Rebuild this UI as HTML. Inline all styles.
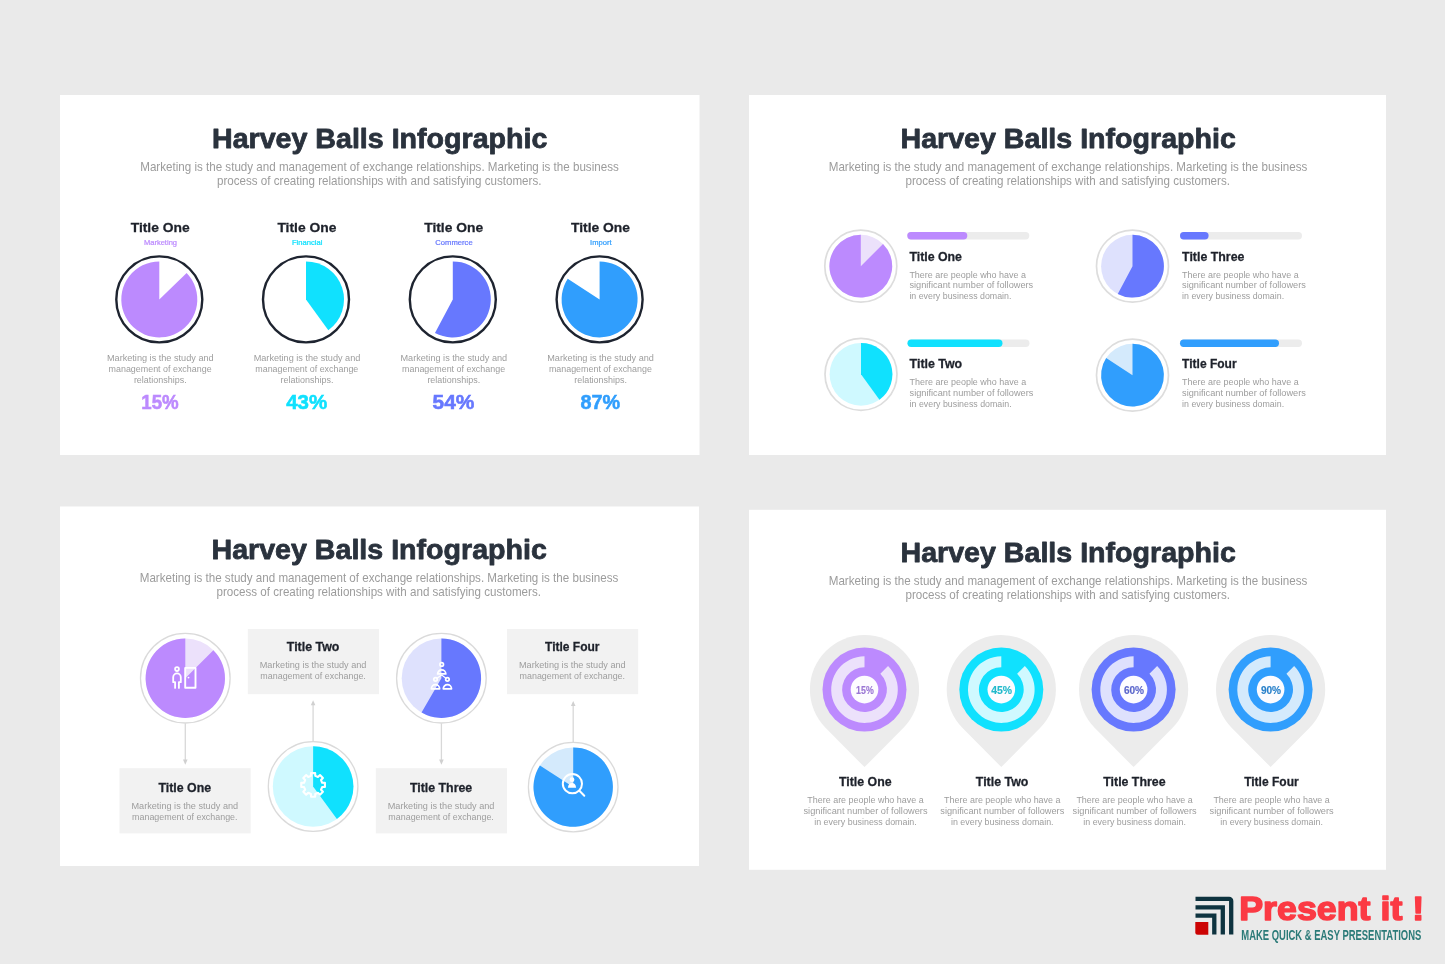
<!DOCTYPE html>
<html lang="en"><head><meta charset="utf-8"><title>Harvey Balls Infographic</title>
<style>
html,body{margin:0;padding:0;background:#eaeaea;}
body{width:1445px;height:964px;overflow:hidden;position:relative;}
svg{position:absolute;left:0;top:0;display:block;font-family:"Liberation Sans", sans-serif;will-change:transform;}
</style></head><body>
<svg width="1445" height="964" viewBox="0 0 1445 964">
<rect x="60" y="95" width="639.5" height="360" fill="#fff" rx="0"/>
<rect x="749" y="95" width="637" height="360" fill="#fff" rx="0"/>
<rect x="60" y="506.5" width="639" height="359.5" fill="#fff" rx="0"/>
<rect x="749" y="509.8" width="637" height="360" fill="#fff" rx="0"/>
<text x="379.7" y="147.5" font-size="27.9" fill="#2a323d" font-weight="700" text-anchor="middle" textLength="335.4" lengthAdjust="spacingAndGlyphs" stroke="#2a323d" stroke-width="0.8" stroke-linejoin="round">Harvey Balls Infographic</text>
<text x="379.5" y="170.8" font-size="12.4" fill="#9c9c9c" font-weight="400" text-anchor="middle" textLength="478.5" lengthAdjust="spacingAndGlyphs">Marketing is the study and management of exchange relationships. Marketing is the business</text>
<text x="379.2" y="185.20000000000002" font-size="12.4" fill="#9c9c9c" font-weight="400" text-anchor="middle" textLength="324.5" lengthAdjust="spacingAndGlyphs">process of creating relationships with and satisfying customers.</text>
<text x="160.20000000000002" y="231.9" font-size="13.7" fill="#1e222b" font-weight="700" text-anchor="middle" textLength="59" lengthAdjust="spacingAndGlyphs" stroke="#1e222b" stroke-width="0.28">Title One</text>
<text x="160.5" y="244.5" font-size="6.7" fill="#bc8afe" font-weight="400" text-anchor="middle" textLength="33" lengthAdjust="spacingAndGlyphs" stroke="#bc8afe" stroke-width="0.2">Marketing</text>
<circle cx="159.3" cy="299.4" r="43" fill="#fff" stroke="#1e2430" stroke-width="2.4"/>
<path d="M159.30 299.40L186.63 273.00A38 38 0 1 1 159.30 261.40Z" fill="#bc8afe"/>
<text x="160.3" y="360.9" font-size="8.8" fill="#9d9d9d" font-weight="400" text-anchor="middle" textLength="106.7" lengthAdjust="spacingAndGlyphs">Marketing is the study and</text>
<text x="160.10000000000002" y="371.9" font-size="8.8" fill="#9d9d9d" font-weight="400" text-anchor="middle" textLength="103" lengthAdjust="spacingAndGlyphs">management of exchange</text>
<text x="160.3" y="382.9" font-size="8.8" fill="#9d9d9d" font-weight="400" text-anchor="middle" textLength="52.8" lengthAdjust="spacingAndGlyphs">relationships.</text>
<text x="160.0" y="408.7" font-size="20.4" fill="#bc8afe" font-weight="700" text-anchor="middle" textLength="37.4" lengthAdjust="spacingAndGlyphs" stroke="#bc8afe" stroke-width="0.55">15%</text>
<text x="306.9" y="231.9" font-size="13.7" fill="#1e222b" font-weight="700" text-anchor="middle" textLength="59" lengthAdjust="spacingAndGlyphs" stroke="#1e222b" stroke-width="0.28">Title One</text>
<text x="307.2" y="244.5" font-size="6.7" fill="#10e1fe" font-weight="400" text-anchor="middle" textLength="30.5" lengthAdjust="spacingAndGlyphs" stroke="#10e1fe" stroke-width="0.2">Financial</text>
<circle cx="306" cy="299.4" r="43" fill="#fff" stroke="#1e2430" stroke-width="2.4"/>
<path d="M306.00 299.40L306.00 261.40A38 38 0 0 1 328.34 330.14Z" fill="#10e1fe"/>
<text x="307" y="360.9" font-size="8.8" fill="#9d9d9d" font-weight="400" text-anchor="middle" textLength="106.7" lengthAdjust="spacingAndGlyphs">Marketing is the study and</text>
<text x="306.8" y="371.9" font-size="8.8" fill="#9d9d9d" font-weight="400" text-anchor="middle" textLength="103" lengthAdjust="spacingAndGlyphs">management of exchange</text>
<text x="307" y="382.9" font-size="8.8" fill="#9d9d9d" font-weight="400" text-anchor="middle" textLength="52.8" lengthAdjust="spacingAndGlyphs">relationships.</text>
<text x="306.7" y="408.7" font-size="20.4" fill="#10e1fe" font-weight="700" text-anchor="middle" textLength="41" lengthAdjust="spacingAndGlyphs" stroke="#10e1fe" stroke-width="0.55">43%</text>
<text x="453.7" y="231.9" font-size="13.7" fill="#1e222b" font-weight="700" text-anchor="middle" textLength="59" lengthAdjust="spacingAndGlyphs" stroke="#1e222b" stroke-width="0.28">Title One</text>
<text x="454.0" y="244.5" font-size="6.7" fill="#6778fe" font-weight="400" text-anchor="middle" textLength="37.3" lengthAdjust="spacingAndGlyphs" stroke="#6778fe" stroke-width="0.2">Commerce</text>
<circle cx="452.8" cy="299.4" r="43" fill="#fff" stroke="#1e2430" stroke-width="2.4"/>
<path d="M452.80 299.40L452.80 261.40A38 38 0 1 1 434.96 332.95Z" fill="#6778fe"/>
<text x="453.8" y="360.9" font-size="8.8" fill="#9d9d9d" font-weight="400" text-anchor="middle" textLength="106.7" lengthAdjust="spacingAndGlyphs">Marketing is the study and</text>
<text x="453.6" y="371.9" font-size="8.8" fill="#9d9d9d" font-weight="400" text-anchor="middle" textLength="103" lengthAdjust="spacingAndGlyphs">management of exchange</text>
<text x="453.8" y="382.9" font-size="8.8" fill="#9d9d9d" font-weight="400" text-anchor="middle" textLength="52.8" lengthAdjust="spacingAndGlyphs">relationships.</text>
<text x="453.5" y="408.7" font-size="20.4" fill="#6778fe" font-weight="700" text-anchor="middle" textLength="41.8" lengthAdjust="spacingAndGlyphs" stroke="#6778fe" stroke-width="0.55">54%</text>
<text x="600.5" y="231.9" font-size="13.7" fill="#1e222b" font-weight="700" text-anchor="middle" textLength="59" lengthAdjust="spacingAndGlyphs" stroke="#1e222b" stroke-width="0.28">Title One</text>
<text x="600.8000000000001" y="244.5" font-size="6.7" fill="#309efd" font-weight="400" text-anchor="middle" textLength="21.5" lengthAdjust="spacingAndGlyphs" stroke="#309efd" stroke-width="0.2">Import</text>
<circle cx="599.6" cy="299.4" r="43" fill="#fff" stroke="#1e2430" stroke-width="2.4"/>
<path d="M599.60 299.40L599.60 261.40A38 38 0 1 1 567.73 278.70Z" fill="#309efd"/>
<text x="600.6" y="360.9" font-size="8.8" fill="#9d9d9d" font-weight="400" text-anchor="middle" textLength="106.7" lengthAdjust="spacingAndGlyphs">Marketing is the study and</text>
<text x="600.4" y="371.9" font-size="8.8" fill="#9d9d9d" font-weight="400" text-anchor="middle" textLength="103" lengthAdjust="spacingAndGlyphs">management of exchange</text>
<text x="600.6" y="382.9" font-size="8.8" fill="#9d9d9d" font-weight="400" text-anchor="middle" textLength="52.8" lengthAdjust="spacingAndGlyphs">relationships.</text>
<text x="600.3000000000001" y="408.7" font-size="20.4" fill="#309efd" font-weight="700" text-anchor="middle" textLength="39.6" lengthAdjust="spacingAndGlyphs" stroke="#309efd" stroke-width="0.55">87%</text>
<text x="1068.2" y="147.5" font-size="27.9" fill="#2a323d" font-weight="700" text-anchor="middle" textLength="335.4" lengthAdjust="spacingAndGlyphs" stroke="#2a323d" stroke-width="0.8" stroke-linejoin="round">Harvey Balls Infographic</text>
<text x="1068.0" y="170.8" font-size="12.4" fill="#9c9c9c" font-weight="400" text-anchor="middle" textLength="478.5" lengthAdjust="spacingAndGlyphs">Marketing is the study and management of exchange relationships. Marketing is the business</text>
<text x="1067.7" y="185.20000000000002" font-size="12.4" fill="#9c9c9c" font-weight="400" text-anchor="middle" textLength="324.5" lengthAdjust="spacingAndGlyphs">process of creating relationships with and satisfying customers.</text>
<circle cx="860.8" cy="266.2" r="36" fill="#fff" stroke="#dddddd" stroke-width="1.7"/>
<circle cx="860.8" cy="266.2" r="31.4" fill="#ece1fb"/>
<path d="M860.80 266.20L883.00 244.00A31.4 31.4 0 1 1 860.80 234.80Z" fill="#bc8afe"/>
<rect x="907.3" y="232.0" width="122" height="7.4" fill="#ececec" rx="3.7"/>
<rect x="907.3" y="232.0" width="60" height="7.4" fill="#bc8afe" rx="3.7"/>
<text x="909.4" y="260.5" font-size="12.3" fill="#1e222b" font-weight="700" text-anchor="start" textLength="52.6" lengthAdjust="spacingAndGlyphs" stroke="#1e222b" stroke-width="0.28">Title One</text>
<text x="909.4" y="277.5" font-size="8.8" fill="#9d9d9d" font-weight="400" text-anchor="start" textLength="116.6" lengthAdjust="spacingAndGlyphs">There are people who have a</text>
<text x="909.4" y="288.09999999999997" font-size="8.8" fill="#9d9d9d" font-weight="400" text-anchor="start" textLength="123.8" lengthAdjust="spacingAndGlyphs">significant number of followers</text>
<text x="909.4" y="299.3" font-size="8.8" fill="#9d9d9d" font-weight="400" text-anchor="start" textLength="102" lengthAdjust="spacingAndGlyphs">in every business domain.</text>
<circle cx="861" cy="374.3" r="36" fill="#fff" stroke="#dddddd" stroke-width="1.7"/>
<circle cx="861" cy="374.3" r="31.4" fill="#cff9ff"/>
<path d="M861.00 374.30L861.00 342.90A31.4 31.4 0 0 1 879.46 399.70Z" fill="#10e1fe"/>
<rect x="907.5" y="339.5" width="122" height="7.4" fill="#ececec" rx="3.7"/>
<rect x="907.5" y="339.5" width="95" height="7.4" fill="#10e1fe" rx="3.7"/>
<text x="909.6" y="368.0" font-size="12.3" fill="#1e222b" font-weight="700" text-anchor="start" textLength="52.6" lengthAdjust="spacingAndGlyphs" stroke="#1e222b" stroke-width="0.28">Title Two</text>
<text x="909.6" y="385.0" font-size="8.8" fill="#9d9d9d" font-weight="400" text-anchor="start" textLength="116.6" lengthAdjust="spacingAndGlyphs">There are people who have a</text>
<text x="909.6" y="395.59999999999997" font-size="8.8" fill="#9d9d9d" font-weight="400" text-anchor="start" textLength="123.8" lengthAdjust="spacingAndGlyphs">significant number of followers</text>
<text x="909.6" y="406.8" font-size="8.8" fill="#9d9d9d" font-weight="400" text-anchor="start" textLength="102" lengthAdjust="spacingAndGlyphs">in every business domain.</text>
<circle cx="1132.5" cy="266.2" r="36" fill="#fff" stroke="#dddddd" stroke-width="1.7"/>
<circle cx="1132.5" cy="266.2" r="31.4" fill="#dee1fd"/>
<path d="M1132.50 266.20L1132.50 234.80A31.4 31.4 0 1 1 1117.76 293.92Z" fill="#6778fe"/>
<rect x="1180.0" y="232.0" width="122" height="7.4" fill="#ececec" rx="3.7"/>
<rect x="1180.0" y="232.0" width="28.6" height="7.4" fill="#6778fe" rx="3.7"/>
<text x="1182.1" y="260.5" font-size="12.3" fill="#1e222b" font-weight="700" text-anchor="start" textLength="62.3" lengthAdjust="spacingAndGlyphs" stroke="#1e222b" stroke-width="0.28">Title Three</text>
<text x="1182.1" y="277.5" font-size="8.8" fill="#9d9d9d" font-weight="400" text-anchor="start" textLength="116.6" lengthAdjust="spacingAndGlyphs">There are people who have a</text>
<text x="1182.1" y="288.09999999999997" font-size="8.8" fill="#9d9d9d" font-weight="400" text-anchor="start" textLength="123.8" lengthAdjust="spacingAndGlyphs">significant number of followers</text>
<text x="1182.1" y="299.3" font-size="8.8" fill="#9d9d9d" font-weight="400" text-anchor="start" textLength="102" lengthAdjust="spacingAndGlyphs">in every business domain.</text>
<circle cx="1132.5" cy="375.2" r="36" fill="#fff" stroke="#dddddd" stroke-width="1.7"/>
<circle cx="1132.5" cy="375.2" r="31.4" fill="#d4eafc"/>
<path d="M1132.50 375.20L1132.50 343.80A31.4 31.4 0 1 1 1106.17 358.10Z" fill="#309efd"/>
<rect x="1180.0" y="339.5" width="122" height="7.4" fill="#ececec" rx="3.7"/>
<rect x="1180.0" y="339.5" width="99" height="7.4" fill="#309efd" rx="3.7"/>
<text x="1182.1" y="368.0" font-size="12.3" fill="#1e222b" font-weight="700" text-anchor="start" textLength="54.5" lengthAdjust="spacingAndGlyphs" stroke="#1e222b" stroke-width="0.28">Title Four</text>
<text x="1182.1" y="385.0" font-size="8.8" fill="#9d9d9d" font-weight="400" text-anchor="start" textLength="116.6" lengthAdjust="spacingAndGlyphs">There are people who have a</text>
<text x="1182.1" y="395.59999999999997" font-size="8.8" fill="#9d9d9d" font-weight="400" text-anchor="start" textLength="123.8" lengthAdjust="spacingAndGlyphs">significant number of followers</text>
<text x="1182.1" y="406.8" font-size="8.8" fill="#9d9d9d" font-weight="400" text-anchor="start" textLength="102" lengthAdjust="spacingAndGlyphs">in every business domain.</text>
<text x="379.2" y="558.7" font-size="27.9" fill="#2a323d" font-weight="700" text-anchor="middle" textLength="335.4" lengthAdjust="spacingAndGlyphs" stroke="#2a323d" stroke-width="0.8" stroke-linejoin="round">Harvey Balls Infographic</text>
<text x="379.0" y="582" font-size="12.4" fill="#9c9c9c" font-weight="400" text-anchor="middle" textLength="478.5" lengthAdjust="spacingAndGlyphs">Marketing is the study and management of exchange relationships. Marketing is the business</text>
<text x="378.7" y="596.4" font-size="12.4" fill="#9c9c9c" font-weight="400" text-anchor="middle" textLength="324.5" lengthAdjust="spacingAndGlyphs">process of creating relationships with and satisfying customers.</text>
<rect x="119.5" y="768.2" width="131.2" height="65.2" fill="#f2f2f2" rx="0"/>
<text x="184.8" y="792.1" font-size="12.3" fill="#1e222b" font-weight="700" text-anchor="middle" textLength="52.6" lengthAdjust="spacingAndGlyphs" stroke="#1e222b" stroke-width="0.28">Title One</text>
<text x="184.8" y="809.4" font-size="8.8" fill="#9d9d9d" font-weight="400" text-anchor="middle" textLength="106.7" lengthAdjust="spacingAndGlyphs">Marketing is the study and</text>
<text x="184.8" y="820.2" font-size="8.8" fill="#9d9d9d" font-weight="400" text-anchor="middle" textLength="105.5" lengthAdjust="spacingAndGlyphs">management of exchange.</text>
<rect x="247.8" y="629" width="131.2" height="65.2" fill="#f2f2f2" rx="0"/>
<text x="313.1" y="651" font-size="12.3" fill="#1e222b" font-weight="700" text-anchor="middle" textLength="52.6" lengthAdjust="spacingAndGlyphs" stroke="#1e222b" stroke-width="0.28">Title Two</text>
<text x="313.1" y="668.3" font-size="8.8" fill="#9d9d9d" font-weight="400" text-anchor="middle" textLength="106.7" lengthAdjust="spacingAndGlyphs">Marketing is the study and</text>
<text x="313.1" y="679.1" font-size="8.8" fill="#9d9d9d" font-weight="400" text-anchor="middle" textLength="105.5" lengthAdjust="spacingAndGlyphs">management of exchange.</text>
<rect x="375.8" y="768.2" width="131.2" height="65.2" fill="#f2f2f2" rx="0"/>
<text x="441.1" y="792.1" font-size="12.3" fill="#1e222b" font-weight="700" text-anchor="middle" textLength="62.3" lengthAdjust="spacingAndGlyphs" stroke="#1e222b" stroke-width="0.28">Title Three</text>
<text x="441.1" y="809.4" font-size="8.8" fill="#9d9d9d" font-weight="400" text-anchor="middle" textLength="106.7" lengthAdjust="spacingAndGlyphs">Marketing is the study and</text>
<text x="441.1" y="820.2" font-size="8.8" fill="#9d9d9d" font-weight="400" text-anchor="middle" textLength="105.5" lengthAdjust="spacingAndGlyphs">management of exchange.</text>
<rect x="507" y="629" width="131.2" height="65.2" fill="#f2f2f2" rx="0"/>
<text x="572.3" y="651" font-size="12.3" fill="#1e222b" font-weight="700" text-anchor="middle" textLength="54.5" lengthAdjust="spacingAndGlyphs" stroke="#1e222b" stroke-width="0.28">Title Four</text>
<text x="572.3" y="668.3" font-size="8.8" fill="#9d9d9d" font-weight="400" text-anchor="middle" textLength="106.7" lengthAdjust="spacingAndGlyphs">Marketing is the study and</text>
<text x="572.3" y="679.1" font-size="8.8" fill="#9d9d9d" font-weight="400" text-anchor="middle" textLength="105.5" lengthAdjust="spacingAndGlyphs">management of exchange.</text>
<path d="M185.3 723.2V761.2" stroke="#d8d8d8" stroke-width="1.3" fill="none"/>
<path d="M183.0 759.6L185.3 764.7L187.60000000000002 759.6Z" fill="#d0d0d0"/>
<circle cx="185.3" cy="678.2" r="44.8" fill="#fff" stroke="#dadada" stroke-width="1.3"/>
<circle cx="185.3" cy="678.2" r="39.7" fill="#ece1fb"/>
<path d="M185.30 678.20L213.37 650.13A39.7 39.7 0 1 1 185.30 638.50Z" fill="#bc8afe"/>
<path d="M313.1 741.5V703.5" stroke="#d8d8d8" stroke-width="1.3" fill="none"/>
<path d="M310.8 705.3L313.1 700.3L315.40000000000003 705.3Z" fill="#d0d0d0"/>
<circle cx="313.1" cy="786.5" r="44.8" fill="#fff" stroke="#dadada" stroke-width="1.3"/>
<circle cx="313.1" cy="786.5" r="40.3" fill="#cff9ff"/>
<path d="M313.10 786.50L313.10 746.20A40.3 40.3 0 0 1 336.90 819.02Z" fill="#10e1fe"/>
<path d="M441.4 723.2V761.2" stroke="#d8d8d8" stroke-width="1.3" fill="none"/>
<path d="M439.09999999999997 759.6L441.4 764.7L443.7 759.6Z" fill="#d0d0d0"/>
<circle cx="441.4" cy="678.2" r="44.8" fill="#fff" stroke="#dadada" stroke-width="1.3"/>
<circle cx="441.4" cy="678.2" r="39.7" fill="#dee1fd"/>
<path d="M441.40 678.20L441.40 638.50A39.7 39.7 0 1 1 421.55 712.58Z" fill="#6778fe"/>
<path d="M573.2 742.1V704.1" stroke="#d8d8d8" stroke-width="1.3" fill="none"/>
<path d="M570.9000000000001 705.9L573.2 700.9L575.5 705.9Z" fill="#d0d0d0"/>
<circle cx="573.2" cy="787.1" r="44.8" fill="#fff" stroke="#dadada" stroke-width="1.3"/>
<circle cx="573.2" cy="787.1" r="39.7" fill="#d4eafc"/>
<path d="M573.20 787.10L573.20 747.40A39.7 39.7 0 1 1 539.90 765.48Z" fill="#309efd"/>
<g fill="none" stroke="#fff" stroke-linecap="round" stroke-linejoin="round" stroke-width="1.8">
<circle cx="177" cy="669.1" r="1.9"/>
<path d="M175.1 687.9V682.2H173.2V677.2A3.8 3.8 0 0 1 180.8 677.2V682.2H178.9V687.9"/>
<rect x="185.2" y="667.9" width="10.3" height="19.8" stroke-width="1.9"/>
</g><circle cx="188.5" cy="677.6" r="0.95" fill="#fff"/>
<path d="M311.04 773.08L315.16 773.08L315.27 775.86L317.96 776.97L320.00 775.08L322.92 778.00L321.03 780.04L322.14 782.73L324.92 782.84L324.92 786.96L322.14 787.07L321.03 789.76L322.92 791.80L320.00 794.72L317.96 792.83L315.27 793.94L315.16 796.72L311.04 796.72L310.93 793.94L308.24 792.83L306.20 794.72L303.28 791.80L305.17 789.76L304.06 787.07L301.28 786.96L301.28 782.84L304.06 782.73L305.17 780.04L303.28 778.00L306.20 775.08L308.24 776.97L310.93 775.86Z" fill="none" stroke="#fff" stroke-linecap="round" stroke-linejoin="round" stroke-width="2.1"/>
<g fill="none" stroke="#fff" stroke-linecap="round" stroke-linejoin="round" stroke-width="1.75" transform="translate(0.3 0.4)">
<path d="M437 677.6L441.4 674.6L445.3 677.6" stroke-width="1.1"/>
<circle cx="441.4" cy="664.1" r="1.75"/>
<path d="M437.29999999999995 673.6A4.1 4.2 0 0 1 445.5 673.6Z"/>
<circle cx="435.2" cy="678.9" r="1.75"/>
<path d="M431.09999999999997 688.4A4.1 4.2 0 0 1 439.3 688.4Z"/>
<circle cx="447.1" cy="678.9" r="1.75"/>
<path d="M443.0 688.4A4.1 4.2 0 0 1 451.20000000000005 688.4Z"/>
</g>
<g fill="none" stroke="#fff" stroke-linecap="round" stroke-linejoin="round" stroke-width="2" transform="translate(0 0.5)"><circle cx="572.4" cy="783.2" r="9.6"/><path d="M579.4 790.3L584.3 795.2"/></g>
<circle cx="572" cy="779.7" r="2.4" fill="#fff"/><path transform="translate(0 0.5)" d="M567.9 787.2C568.2 784 570 782.6 572 782.6S575.8 784 576.1 787.2Z" fill="#fff"/>
<text x="1068.2" y="561.7" font-size="27.9" fill="#2a323d" font-weight="700" text-anchor="middle" textLength="335.4" lengthAdjust="spacingAndGlyphs" stroke="#2a323d" stroke-width="0.8" stroke-linejoin="round">Harvey Balls Infographic</text>
<text x="1068.0" y="585" font-size="12.4" fill="#9c9c9c" font-weight="400" text-anchor="middle" textLength="478.5" lengthAdjust="spacingAndGlyphs">Marketing is the study and management of exchange relationships. Marketing is the business</text>
<text x="1067.7" y="599.4" font-size="12.4" fill="#9c9c9c" font-weight="400" text-anchor="middle" textLength="324.5" lengthAdjust="spacingAndGlyphs">process of creating relationships with and satisfying customers.</text>
<path d="M864.50 767.1L825.75 728.07A54.6 54.6 0 1 1 903.25 728.07Z" fill="#ececec"/>
<circle cx="864.5" cy="689.6" r="42" fill="#bc8afe"/>
<path d="M888.05 666.05A33.3 33.3 0 1 1 864.50 656.30L864.50 667.20A22.4 22.4 0 1 0 880.34 673.76Z" fill="#ece1fb"/>
<circle cx="864.5" cy="689.6" r="13.8" fill="#fdfcff"/>
<text x="864.9" y="693.7" font-size="10.4" fill="#9a76d4" font-weight="700" text-anchor="middle" textLength="17.6" lengthAdjust="spacingAndGlyphs" stroke="#9a76d4" stroke-width="0.15">15%</text>
<text x="865.3" y="785.8" font-size="12.3" fill="#1e222b" font-weight="700" text-anchor="middle" textLength="52.6" lengthAdjust="spacingAndGlyphs" stroke="#1e222b" stroke-width="0.28">Title One</text>
<text x="865.5" y="803.3" font-size="8.8" fill="#9d9d9d" font-weight="400" text-anchor="middle" textLength="116.4" lengthAdjust="spacingAndGlyphs">There are people who have a</text>
<text x="865.5" y="814.4" font-size="8.8" fill="#9d9d9d" font-weight="400" text-anchor="middle" textLength="124" lengthAdjust="spacingAndGlyphs">significant number of followers</text>
<text x="865.5" y="825.2" font-size="8.8" fill="#9d9d9d" font-weight="400" text-anchor="middle" textLength="102.6" lengthAdjust="spacingAndGlyphs">in every business domain.</text>
<path d="M1001.30 767.1L962.55 728.07A54.6 54.6 0 1 1 1040.05 728.07Z" fill="#ececec"/>
<circle cx="1001.3" cy="689.6" r="42" fill="#10e1fe"/>
<path d="M1024.85 666.05A33.3 33.3 0 1 1 1001.30 656.30L1001.30 667.20A22.4 22.4 0 1 0 1017.14 673.76Z" fill="#cff9ff"/>
<circle cx="1001.3" cy="689.6" r="13.8" fill="#fdfcff"/>
<text x="1001.6999999999999" y="693.7" font-size="10.4" fill="#22b9cb" font-weight="700" text-anchor="middle" textLength="20.8" lengthAdjust="spacingAndGlyphs" stroke="#22b9cb" stroke-width="0.15">45%</text>
<text x="1002.0999999999999" y="785.8" font-size="12.3" fill="#1e222b" font-weight="700" text-anchor="middle" textLength="52.6" lengthAdjust="spacingAndGlyphs" stroke="#1e222b" stroke-width="0.28">Title Two</text>
<text x="1002.3" y="803.3" font-size="8.8" fill="#9d9d9d" font-weight="400" text-anchor="middle" textLength="116.4" lengthAdjust="spacingAndGlyphs">There are people who have a</text>
<text x="1002.3" y="814.4" font-size="8.8" fill="#9d9d9d" font-weight="400" text-anchor="middle" textLength="124" lengthAdjust="spacingAndGlyphs">significant number of followers</text>
<text x="1002.3" y="825.2" font-size="8.8" fill="#9d9d9d" font-weight="400" text-anchor="middle" textLength="102.6" lengthAdjust="spacingAndGlyphs">in every business domain.</text>
<path d="M1133.60 767.1L1094.85 728.07A54.6 54.6 0 1 1 1172.35 728.07Z" fill="#ececec"/>
<circle cx="1133.6" cy="689.6" r="42" fill="#6778fe"/>
<path d="M1157.15 666.05A33.3 33.3 0 1 1 1133.60 656.30L1133.60 667.20A22.4 22.4 0 1 0 1149.44 673.76Z" fill="#dee1fd"/>
<circle cx="1133.6" cy="689.6" r="13.8" fill="#fdfcff"/>
<text x="1134.0" y="693.7" font-size="10.4" fill="#5b66cc" font-weight="700" text-anchor="middle" textLength="20.2" lengthAdjust="spacingAndGlyphs" stroke="#5b66cc" stroke-width="0.15">60%</text>
<text x="1134.3999999999999" y="785.8" font-size="12.3" fill="#1e222b" font-weight="700" text-anchor="middle" textLength="62.3" lengthAdjust="spacingAndGlyphs" stroke="#1e222b" stroke-width="0.28">Title Three</text>
<text x="1134.6" y="803.3" font-size="8.8" fill="#9d9d9d" font-weight="400" text-anchor="middle" textLength="116.4" lengthAdjust="spacingAndGlyphs">There are people who have a</text>
<text x="1134.6" y="814.4" font-size="8.8" fill="#9d9d9d" font-weight="400" text-anchor="middle" textLength="124" lengthAdjust="spacingAndGlyphs">significant number of followers</text>
<text x="1134.6" y="825.2" font-size="8.8" fill="#9d9d9d" font-weight="400" text-anchor="middle" textLength="102.6" lengthAdjust="spacingAndGlyphs">in every business domain.</text>
<path d="M1270.60 767.1L1231.85 728.07A54.6 54.6 0 1 1 1309.35 728.07Z" fill="#ececec"/>
<circle cx="1270.6" cy="689.6" r="42" fill="#309efd"/>
<path d="M1294.15 666.05A33.3 33.3 0 1 1 1270.60 656.30L1270.60 667.20A22.4 22.4 0 1 0 1286.44 673.76Z" fill="#d4eafc"/>
<circle cx="1270.6" cy="689.6" r="13.8" fill="#fdfcff"/>
<text x="1271.0" y="693.7" font-size="10.4" fill="#2a80ca" font-weight="700" text-anchor="middle" textLength="20.2" lengthAdjust="spacingAndGlyphs" stroke="#2a80ca" stroke-width="0.15">90%</text>
<text x="1271.3999999999999" y="785.8" font-size="12.3" fill="#1e222b" font-weight="700" text-anchor="middle" textLength="54.5" lengthAdjust="spacingAndGlyphs" stroke="#1e222b" stroke-width="0.28">Title Four</text>
<text x="1271.6" y="803.3" font-size="8.8" fill="#9d9d9d" font-weight="400" text-anchor="middle" textLength="116.4" lengthAdjust="spacingAndGlyphs">There are people who have a</text>
<text x="1271.6" y="814.4" font-size="8.8" fill="#9d9d9d" font-weight="400" text-anchor="middle" textLength="124" lengthAdjust="spacingAndGlyphs">significant number of followers</text>
<text x="1271.6" y="825.2" font-size="8.8" fill="#9d9d9d" font-weight="400" text-anchor="middle" textLength="102.6" lengthAdjust="spacingAndGlyphs">in every business domain.</text>
<path d="M1195.5 898.9H1229.2A2 2 0 0 1 1231.2 900.9V934.6M1195.5 907.3H1222.8V934.6M1195.5 915.7H1214.3V934.6" stroke="#0e333f" stroke-width="4.3" fill="none"/>
<path d="M1195.3 922H1208.3V934.7H1197.8A2.5 2.5 0 0 1 1195.3 932.2Z" fill="#cc0303"/>
<text x="1239.2" y="920" font-size="33.5" fill="#fb3a44" font-weight="700" text-anchor="start" textLength="185" lengthAdjust="spacingAndGlyphs" stroke="#fb3a44" stroke-width="1.5" stroke-linejoin="round">Present it !</text>
<text x="1241.3" y="940.2" font-size="15.3" fill="#2b7a78" font-weight="700" text-anchor="start" textLength="180" lengthAdjust="spacingAndGlyphs">MAKE QUICK &amp; EASY PRESENTATIONS</text>
</svg>
</body></html>
